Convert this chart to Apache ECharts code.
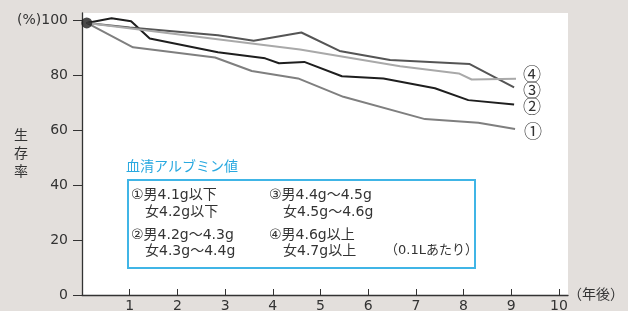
<!DOCTYPE html>
<html>
<head>
<meta charset="utf-8">
<script src="https://cdn.jsdelivr.net/npm/echarts@6/dist/echarts.min.js"></script>
<style>
  html, body { margin: 0; padding: 0; background: #e3dfdc; }
  #main { width: 628px; height: 311px; }
</style>
</head>
<body>
<div id="main"></div>
<script>
// 生存率の推移（年後, %）
var line1 = [[0.1, 99], [1.07, 90.1], [2.79, 86.4], [3.56, 81.5], [4.53, 78.8], [5.48, 72.1], [7.19, 64], [8.31, 62.7], [9.08, 60.4]];
var line2 = [[0.1, 99], [0.62, 100.7], [1.03, 99.6], [1.42, 93.3], [2.85, 88.3], [3.84, 86.1], [4.13, 84.3], [4.66, 84.8], [5.45, 79.6], [6.32, 78.8], [7.4, 75.2], [8.1, 70.9], [9.06, 69.3]];
var line3 = [[0.1, 99], [1, 97.3], [2.85, 94.5], [3.6, 92.5], [4.6, 95.5], [5.4, 88.8], [6.46, 85.5], [8.13, 84], [9.06, 75.5]];
var line4 = [[0.1, 99], [4.57, 89.3], [6.67, 83.2], [7.9, 80.6], [8.17, 78.4], [9.1, 78.7]];
var startPoint = [[0.1, 99]];

var seriesNames = ['①', '②', '③', '④'];
var xTicks = [1, 2, 3, 4, 5, 6, 7, 8, 9, 10];
var yTicks = [0, 20, 40, 60, 80, 100];

var legendLines = [
  ['①男4.1g以下', '③男4.4g～4.5g'],
  ['　女4.2g以下', '　女4.5g～4.6g'],
  ['②男4.2g～4.3g', '④男4.6g以上'],
  ['　女4.3g～4.4g', '　女4.7g以上']
];

var font = "'DejaVu Sans', 'Noto Sans CJK JP', sans-serif";
var textColor = '#333';

var myChart = echarts.init(document.getElementById('main'));

function lineSeries(name, data, color, offset) {
  return {
    name: name,
    type: 'line',
    data: data,
    symbol: 'none',
    z: 3,
    lineStyle: { color: color, width: 2 },
    endLabel: {
      show: true,
      formatter: name,
      offset: offset,
      fontSize: 18,
      color: textColor,
      fontFamily: "'Noto Sans CJK JP', sans-serif"
    }
  };
}

// テキストボックス
var graphics = [
  {
    type: 'text',
    left: 126,
    top: 160,
    style: { text: '血清アルブミン値', fill: '#29a9e0', fontSize: 14, fontFamily: font }
  },
  {
    type: 'rect',
    left: 127,
    top: 179,
    shape: { width: 347, height: 88 },
    style: { fill: '#fff', stroke: '#40b5e6', lineWidth: 2 }
  }
];
var rowY = [188, 205, 228, 244];
legendLines.forEach(function (row, i) {
  graphics.push({
    type: 'text', left: 131, top: rowY[i],
    style: { text: row[0], fill: textColor, fontSize: 14, fontFamily: font }
  });
  graphics.push({
    type: 'text', left: 269, top: rowY[i],
    style: { text: row[1], fill: textColor, fontSize: 14, fontFamily: font }
  });
});
graphics.push({
  type: 'text', left: 385, top: rowY[3],
  style: { text: '（0.1Lあたり）', fill: textColor, fontSize: 13, fontFamily: font }
});

myChart.setOption({
  animation: false,
  backgroundColor: '#e3dfdc',
  grid: {
    left: 82,
    right: 60,
    top: 13,
    bottom: 16,
    outerBoundsMode: 'none',
    containLabel: false,
    show: true,
    backgroundColor: '#fff',
    borderWidth: 0
  },
  xAxis: {
    type: 'value',
    min: 0,
    max: 10.19,
    name: '（年後）',
    nameLocation: 'end',
    nameGap: 0,
    nameMoveOverlap: false,
    nameTextStyle: { fontSize: 14, color: textColor, fontFamily: font, padding: [20, 0, 0, 0] },
    axisLine: { lineStyle: { color: '#333', width: 1.3 } },
    axisTick: { inside: true, length: 6, customValues: xTicks, lineStyle: { color: '#333' } },
    axisLabel: { customValues: xTicks, margin: 4, fontSize: 14, color: textColor, fontFamily: font },
    splitLine: { show: false }
  },
  yAxis: {
    type: 'value',
    min: 0,
    max: 102.6,
    name: '生\n存\n率',
    nameLocation: 'middle',
    nameRotate: 0,
    nameGap: 54,
    nameMoveOverlap: false,
    nameTextStyle: { fontSize: 14, lineHeight: 18, color: textColor, fontFamily: font, padding: [0, 0, 44, 0] },
    axisLine: { show: true, lineStyle: { color: '#333', width: 1.3 } },
    axisTick: { show: true, length: 9, customValues: yTicks, lineStyle: { color: '#333' } },
    axisLabel: {
      customValues: yTicks,
      margin: 14,
      fontSize: 14,
      color: textColor,
      fontFamily: font,
      formatter: function (v) {
        return v === 100 ? '(%)100' : String(v);
      }
    },
    splitLine: { show: false }
  },
  series: [
    lineSeries(seriesNames[0], line1, '#7f7f7f', [1, 2]),
    lineSeries(seriesNames[1], line2, '#1e1e1e', [1, 2]),
    lineSeries(seriesNames[2], line3, '#555555', [1, 3]),
    lineSeries(seriesNames[3], line4, '#a9a9a9', [-1, -5]),
    {
      type: 'scatter',
      data: startPoint,
      symbolSize: 11,
      z: 5,
      itemStyle: { color: '#1e1e1e' }
    }
  ],
  graphic: graphics
});
</script>
</body>
</html>
